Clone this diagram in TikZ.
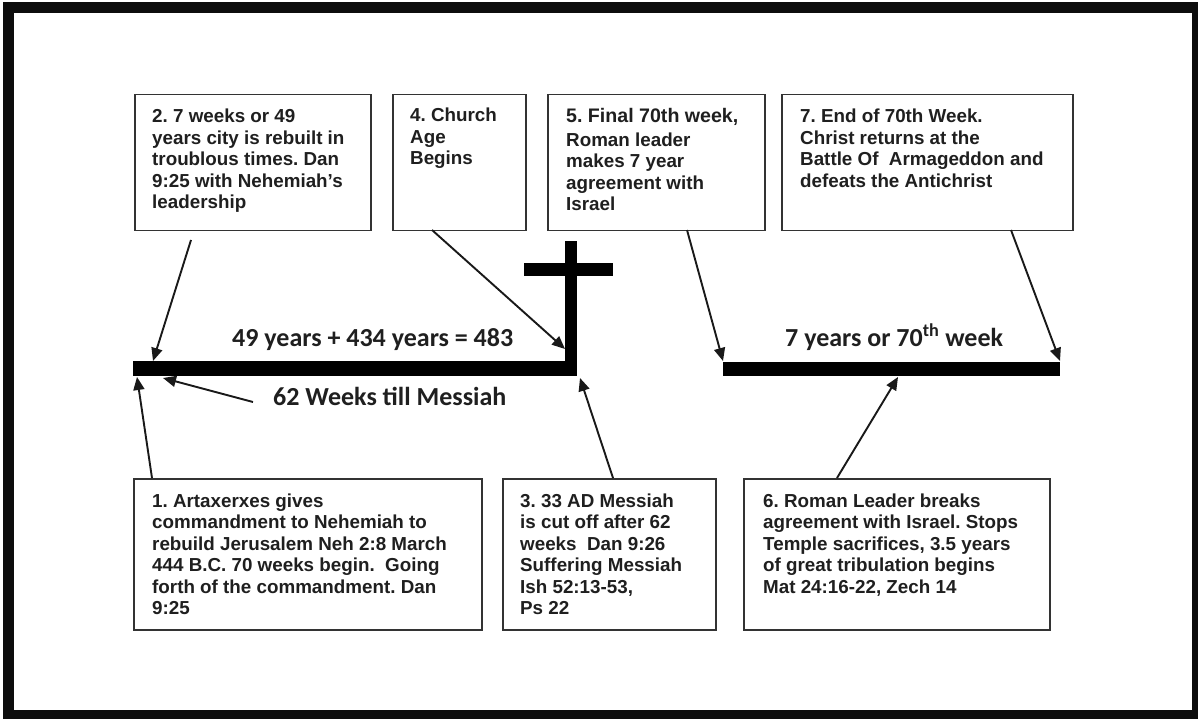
\documentclass[tikz,border=0pt]{standalone}
\usepackage{fontspec}
\setmainfont{Liberation Sans}
\newfontfamily\calfont{Carlito}
\usetikzlibrary{arrows.meta,calc}
\frenchspacing
\begin{document}
\frenchspacing
\begin{tikzpicture}[x=1pt,y=-1pt,
  box/.style={draw=black!80,line width=1.5pt,anchor=north west,inner sep=0pt},
  txt/.style={anchor=base west,inner sep=0pt,align=left,text=black!88,
    font=\fontsize{18.8}{21.5}\selectfont\bfseries\frenchspacing},
  head/.style={anchor=base west,inner sep=0pt,text=black!88,
    font=\fontsize{26}{30}\selectfont\calfont\bfseries},
  bar/.style={fill=black,draw=none,anchor=north west,inner sep=0pt},
  arr/.style={line width=1.9pt,draw=black!90,-{Triangle[length=13pt,width=11pt]}}]
\useasboundingbox (0,0) rectangle (1198,719);
\fill[white] (0,0) rectangle (1198,719);
% outer frame
\draw[line width=11pt,black!95] (8.5,8) rectangle (1197.5,715.5);

% top boxes
\node[box,minimum width=236pt,minimum height=136pt] (b2) at (134,94) {};
\node[box,minimum width=133pt,minimum height=136pt] (b4) at (392,94) {};
\node[box,minimum width=217pt,minimum height=136pt] (b5) at (547,94) {};
\node[box,minimum width=291pt,minimum height=136pt] (b7) at (781,94) {};
% bottom boxes
\node[box,minimum width=348pt,minimum height=151pt] (b1) at (133,478) {};
\node[box,minimum width=213pt,minimum height=151pt] (b3) at (502,478) {};
\node[box,minimum width=306pt,minimum height=151pt] (b6) at (743,478) {};

% box texts (anchored at the baseline of their last line)
\node[txt] (t2) at (152,209) {2. 7 weeks or 49\\years city is rebuilt in\\troublous times. Dan\\9:25 with Nehemiah’s\\leadership};
\node[txt] (t4) at (410,165) {4. Church\\Age\\Begins};
\node[txt] (t5) at (566,211) {{\fontsize{19.6}{21.5}\selectfont 5. Final 70th week,}\\[2pt]Roman leader\\makes 7 year\\agreement with\\Israel};
\node[txt] (t7) at (800,187.5) {7. End of 70th Week.\\Christ returns at the\\Battle Of\ \ Armageddon and\\defeats the Antichrist};
\node[txt] (t1) at (152,614.5) {1. Artaxerxes gives\\commandment to Nehemiah to\\rebuild Jerusalem Neh 2:8 March\\444 B.C. 70 weeks begin.\ \ Going\\forth of the commandment. Dan\\9:25};
\node[txt] (t3) at (520,614.5) {3. 33 AD Messiah\\is cut off after 62\\weeks\ \ Dan 9:26\\Suffering Messiah\\Ish 52:13-53,\\Ps 22};
\node[txt] (t6) at (763,593) {6. Roman Leader breaks\\agreement with Israel. Stops\\Temple sacrifices, 3.5 years\\of great tribulation begins\\Mat 24:16-22, Zech 14};

% timeline bars and cross
\node[bar,minimum width=444pt,minimum height=15pt] (bar1) at (133,361) {};
\node[bar,minimum width=12pt,minimum height=135pt] (stem) at (565,241) {};
\node[bar,minimum width=89pt,minimum height=13pt] (crossbar) at (524,263) {};
\node[bar,minimum width=337pt,minimum height=14pt] (bar2) at (723,362) {};

% headline labels
\node[head] (h1) at (232,346) {49 years + 434 years = 483};
\node[head] (h2) at (273,405) {62 Weeks till Messiah};
\node[head] (h3) at (785,346) {7 years or 70\textsuperscript{th} week};

% arrow end points
\coordinate (a2s) at (191,240);  \coordinate (a2e) at (153,361);
\coordinate (a1s) at (152,478);  \coordinate (a1e) at (137,377);
\coordinate (a62s) at (253,402); \coordinate (a62e) at (163,378);
\coordinate (a4s) at (432,230);  \coordinate (a4e) at (565,349);
\coordinate (a5s) at (687,230);  \coordinate (a5e) at (723,361);
\coordinate (a7s) at (1011,230); \coordinate (a7e) at (1060,361);
\coordinate (a3s) at (613,478);  \coordinate (a3e) at (580,378);
\coordinate (a6s) at (837,478);  \coordinate (a6e) at (898,377);

\draw[arr] (a2s) -- (a2e);
\draw[arr] (a1s) -- (a1e);
\draw[arr] (a62s) -- (a62e);
\draw[arr] (a4s) -- (a4e);
\draw[arr] (a5s) -- (a5e);
\draw[arr] (a7s) -- (a7e);
\draw[arr] (a3s) -- (a3e);
\draw[arr] (a6s) -- (a6e);
\end{tikzpicture}
\end{document}
